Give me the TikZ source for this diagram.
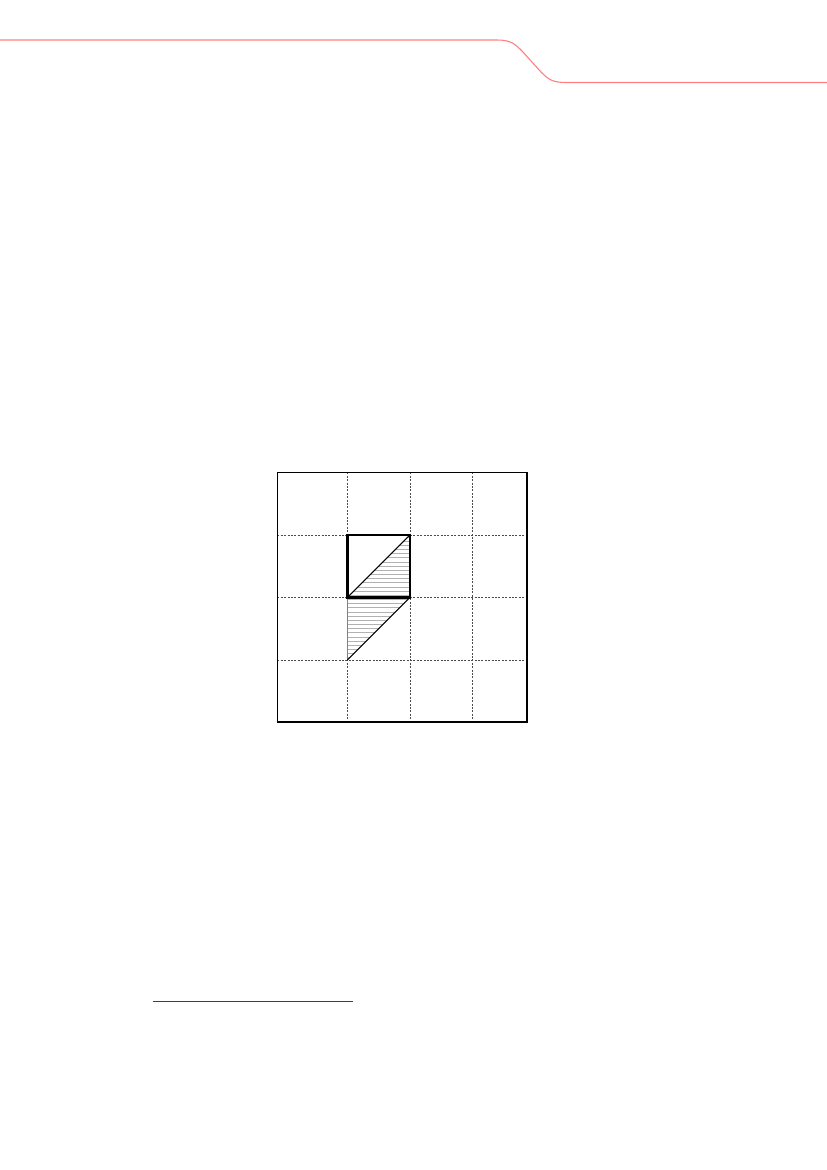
\documentclass[tikz,border=0pt]{standalone}
\begin{document}
\begin{tikzpicture}[x=1bp,y=-1bp,
  redline/.style={draw=red!50, line width=1.1bp},
  gridline/.style={draw=black!70, line width=0.6bp, dash pattern=on 2bp off 1.4bp},
  frame/.style={draw=black, line width=1.2bp},
  thicksq/.style={draw=black, line width=2.6bp},
  diag/.style={draw=black, line width=1.1bp},
  hatch/.style={draw=black!30, line width=0.9bp},
  rule/.style={draw=black!75, line width=0.9bp}]
\useasboundingbox (0,0) rectangle (827,1170);
% header line
\draw[redline] (0,40) -- (497,40) .. controls (511,40) and (515,44) .. (522,51)
  -- (541,72) .. controls (548,79) and (552,82.5) .. (566,82.5) -- (827,82.5);
% coordinates
\coordinate (BL) at (277.3,722);
\coordinate (TR) at (527,472.3);
\coordinate (A) at (347.3,535);
\coordinate (B) at (409.8,535);
\coordinate (C) at (409.8,597.5);
\coordinate (D) at (347.3,597.5);
\coordinate (E) at (347.3,660);
% hatching
\begin{scope}
  \clip (D) -- (B) -- (C) -- cycle;
  \foreach \yy in {0,...,16} \draw[hatch] (340,{535+2+\yy*4.17}) -- (415,{535+2+\yy*4.17});
\end{scope}
\begin{scope}
  \clip (D) -- (C) -- (E) -- cycle;
  \foreach \yy in {0,...,16} \draw[hatch] (340,{597.5+2+\yy*4.17}) -- (415,{597.5+2+\yy*4.17});
\end{scope}
% grid
\foreach \xx in {347.3,409.8,472.3} \draw[gridline] (\xx,472.3) -- (\xx,722);
\foreach \yy in {535,597.5,660} \draw[gridline] (277.3,\yy) -- (527,\yy);
\draw[draw=black!50, line width=0.6bp] (D) -- (E);
% frame
\draw[frame] (BL) rectangle (TR);
% shapes
\draw[diag] (D) -- (B);
\draw[diag] (C) -- (E);
\draw[thicksq] (A) rectangle (C);
% footnote rule
\coordinate (R1) at (152.7,1001.7);
\coordinate (R2) at (352.7,1001.7);
\draw[rule] (R1) -- (R2);
\end{tikzpicture}
\end{document}
